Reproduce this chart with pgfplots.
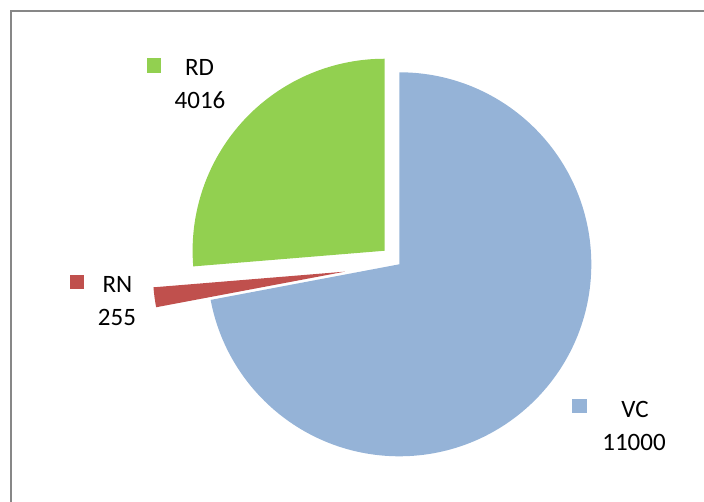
\documentclass[border=0pt]{standalone}
\usepackage{pgfplots}
\usepackage{pgfplotstable}
\pgfplotsset{compat=1.18}
\usepackage{fontspec}
\setmainfont{Carlito}

\definecolor{vcblue}{HTML}{95B3D7}
\definecolor{rnred}{HTML}{C0504D}
\definecolor{rdgreen}{HTML}{92D050}
\definecolor{framegray}{HTML}{878787}

\tikzset{lbl/.style={font=\fontsize{25}{29}\selectfont, inner sep=0pt, anchor=base}}

% slice values (clockwise from 12 o'clock) and how far each is pulled out
\pgfplotstableread{
name value explode
VC   11000 0
RN   255   55
RD   4016  20
}\piedata

\begin{document}
\begin{tikzpicture}
\pgfplotstablegetelem{0}{value}\of\piedata \let\vVC\pgfplotsretval
\pgfplotstablegetelem{1}{value}\of\piedata \let\vRN\pgfplotsretval
\pgfplotstablegetelem{2}{value}\of\piedata \let\vRD\pgfplotsretval
\pgfplotstablegetelem{1}{explode}\of\piedata \let\eRN\pgfplotsretval
\pgfplotstablegetelem{2}{explode}\of\piedata \let\eRD\pgfplotsretval
\pgfmathsetmacro\tot{\vVC+\vRN+\vRD}
\pgfmathsetmacro\aA{90-360*(\vVC/\tot)}
\pgfmathsetmacro\aB{\aA-360*(\vRN/\tot)}
\pgfmathsetmacro\aC{\aB-360*(\vRD/\tot)}
\def\cx{399.3}\def\cy{237.7}\def\R{192pt}
\pgfmathsetmacro\rnx{\cx+\eRN*cos((\aA+\aB)/2)}
\pgfmathsetmacro\rny{\cy+\eRN*sin((\aA+\aB)/2)}
\pgfmathsetmacro\rdx{\cx+\eRD*cos((\aB+\aC)/2)}
\pgfmathsetmacro\rdy{\cy+\eRD*sin((\aB+\aC)/2)}
\useasboundingbox (0,0) rectangle (704pt,502pt);
\begin{axis}[
    x=1pt, y=1pt,
    xmin=0, xmax=704, ymin=0, ymax=502,
    hide axis, clip=false
]
\draw[framegray, line width=2pt] (axis cs:10.5,-5) -- (axis cs:10.5,490.5) -- (axis cs:710,490.5);

\fill[vcblue] (axis cs:\cx,\cy) -- ++(90:\R) arc[start angle=90, end angle=\aA, radius=\R] -- cycle;
\fill[rnred] (axis cs:\rnx,\rny) -- ++(\aA:\R) arc[start angle=\aA, end angle=\aB, radius=\R] -- cycle;
\fill[rdgreen] (axis cs:\rdx,\rdy) -- ++(\aB:\R) arc[start angle=\aB, end angle=\aC, radius=\R] -- cycle;

\fill[rdgreen] (axis cs:147,429) rectangle (axis cs:161,444);
\node[lbl] at (axis cs:199.5,426) {RD};
\node[lbl] at (axis cs:200,393.7) {4016};

\fill[rnred] (axis cs:70,213) rectangle (axis cs:84,227);
\node[lbl] at (axis cs:117.5,209) {RN};
\node[lbl] at (axis cs:117,176.5) {255};

\fill[vcblue] (axis cs:572,89) rectangle (axis cs:587,103);
\node[lbl] at (axis cs:635,84) {VC};
\node[lbl] at (axis cs:634,51.5) {11000};
\end{axis}
\end{tikzpicture}
\end{document}
